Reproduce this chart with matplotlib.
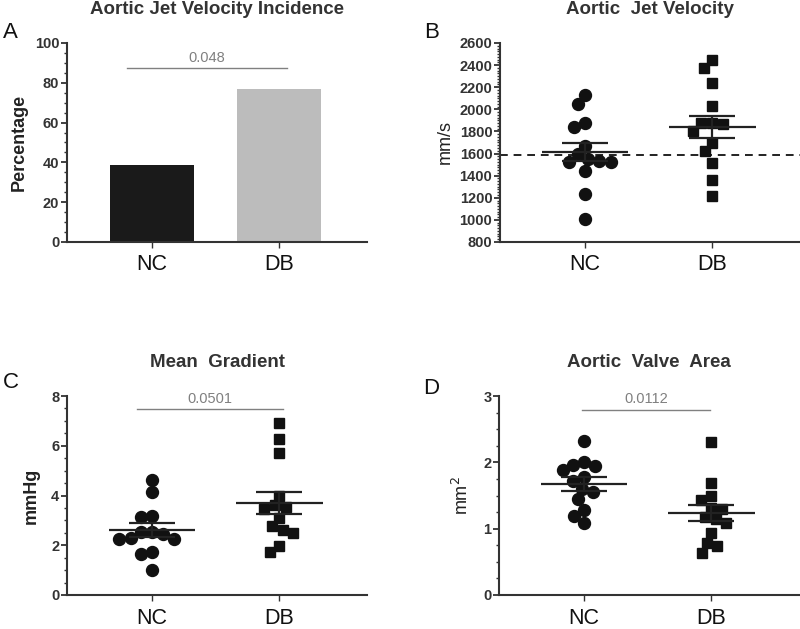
import matplotlib
matplotlib.use("Agg")
import matplotlib.pyplot as plt
import numpy as np
from matplotlib.ticker import MultipleLocator

plt.rcParams["font.family"] = ["Liberation Sans", "DejaVu Sans"]

groups = ["NC", "DB"]

# A: incidence (%)
incidence = [38.5, 76.9]
p_incidence = "0.048"

# B: aortic jet velocity (mm/s)
velocity_nc = [2128, 2050, 1877, 1844, 1671, 1593, 1547, 1526, 1526, 1536, 1442, 1230, 1012]
velocity_db = [2443, 2373, 2237, 2031, 1874, 1804, 1868, 1880, 1699, 1623, 1517, 1360, 1215]
velocity_cutoff = 1590

# C: mean gradient (mmHg)
gradient_nc = [4.64, 4.13, 3.17, 3.15, 2.55, 2.31, 2.27, 2.27, 2.44, 2.55, 1.71, 1.63, 1.01]
gradient_db = [6.91, 6.28, 5.71, 4.00, 3.55, 3.60, 3.44, 3.11, 2.61, 2.51, 2.77, 1.71, 1.95]
p_gradient = "0.0501"

# D: aortic valve area (mm2)
area_nc = [2.325, 1.965, 2.00, 1.94, 1.88, 1.725, 1.775, 1.605, 1.55, 1.44, 1.28, 1.19, 1.09]
area_db = [2.305, 1.69, 1.50, 1.43, 1.30, 1.315, 1.18, 1.14, 1.08, 0.94, 0.79, 0.74, 0.64]
p_area = "0.0112"

W, H = 800, 629
DARK = "#333333"
XLIM = (-0.67, 1.69)


def style_axes(ax, ylim, major, minor):
    ax.set_xlim(*XLIM)
    ax.set_ylim(*ylim)
    for s in ("top", "right"):
        ax.spines[s].set_visible(False)
    for s in ("left", "bottom"):
        ax.spines[s].set_color(DARK)
        ax.spines[s].set_linewidth(1.5)
    ax.yaxis.set_major_locator(MultipleLocator(major))
    ax.yaxis.set_minor_locator(MultipleLocator(minor))
    ax.tick_params(axis="y", which="major", length=4, width=1.3, color=DARK,
                   labelsize=10.5, labelcolor=DARK, pad=1.5)
    ax.tick_params(axis="y", which="minor", length=2, width=1.0, color=DARK)
    for lab in ax.get_yticklabels():
        lab.set_fontweight("bold")
    ax.set_xticks([0, 1])
    ax.set_xticklabels(groups)
    ax.tick_params(axis="x", length=4, width=1.0, color=DARK, labelsize=15.5,
                   labelcolor="#111111", pad=5)


def swarm(ax, values, d_px):
    # greedy beeswarm in pixel space, returns x offsets in data units
    pos = ax.get_position()
    ylo, yhi = ax.get_ylim()
    ys = pos.height * H / (yhi - ylo)
    xs = pos.width * W / (XLIM[1] - XLIM[0])
    vals = np.asarray(values, float)
    offs = np.zeros(len(vals))
    placed = []
    for i in np.argsort(-vals, kind="stable"):
        y = vals[i] * ys
        cands = [0.0]
        blocked = []
        for px, py in placed:
            dy = abs(py - y)
            if dy < d_px:
                w = np.sqrt(d_px ** 2 - dy ** 2)
                blocked.append((px - w, px + w))
                cands += [px - w, px + w]
        cands.sort(key=abs)
        for c in cands:
            if all(not (lo + 1e-6 < c < hi - 1e-6) for lo, hi in blocked):
                break
        offs[i] = c
        placed.append((c, y))
    return offs / xs


def dot_plot(ax, data_nc, data_db):
    for k, (vals, mk, ms, d) in enumerate([(data_nc, "o", 8.6, 11.5),
                                           (data_db, "s", 7.8, 11.0)]):
        offs = swarm(ax, vals, d)
        ax.plot(k + offs, vals, linestyle="none", marker=mk, markersize=ms,
                color="#111111", zorder=3)
        v = np.asarray(vals, float)
        m = v.mean()
        sem = v.std(ddof=1) / np.sqrt(len(v))
        lc = "#222222"
        ax.hlines(m, k - 0.34, k + 0.34, color=lc, lw=1.6, zorder=4)
        ax.hlines([m - sem, m + sem], k - 0.18, k + 0.18, color=lc, lw=1.6, zorder=4)
        ax.vlines(k, m - sem, m + sem, color=lc, lw=1.6, zorder=4)


def sig_bar(ax, y, text, x0, x1):
    ax.plot([x0, x1], [y, y], color="#808080", lw=1.0)
    ax.annotate(text, xy=((x0 + x1) / 2, y), xytext=(0, 2.5), textcoords="offset points",
                ha="center", va="bottom", fontsize=10.5, color="#808080")


fig = plt.figure(figsize=(W / 100, H / 100), dpi=100)


def add_axes(left, top, right, bottom):
    return fig.add_axes([left / W, 1 - bottom / H, (right - left) / W, (bottom - top) / H])


axA = add_axes(67, 43, 367, 242)
axB = add_axes(500, 43, 800, 242)
axC = add_axes(67, 396, 367, 595)
axD = add_axes(499, 396, 799, 595)

# A
style_axes(axA, (0, 100), 20, 5)
axA.bar([0, 1], incidence, width=0.66, color=["#1a1a1a", "#bcbcbc"])
sig_bar(axA, 87.4, p_incidence, -0.2, 1.06)
axA.set_ylabel("Percentage", fontsize=13, fontweight="bold", color="#222222", labelpad=5)

# B
style_axes(axB, (800, 2600), 200, 25)
axB.axhline(velocity_cutoff, color="#222222", lw=1.4, ls=(0, (4, 3)), zorder=2)
dot_plot(axB, velocity_nc, velocity_db)
axB.set_ylabel("mm/s", fontsize=13, color="#222222", labelpad=4)

# C
style_axes(axC, (0, 8), 2, 0.5)
dot_plot(axC, gradient_nc, gradient_db)
sig_bar(axC, 7.47, p_gradient, -0.12, 1.03)
axC.set_ylabel("mmHg", fontsize=13, fontweight="bold", color="#222222", labelpad=8)

# D
style_axes(axD, (0, 3), 1, 0.25)
dot_plot(axD, area_nc, area_db)
sig_bar(axD, 2.79, p_area, -0.02, 0.99)
axD.set_ylabel("mm$^2$", fontsize=13, color="#222222", labelpad=8)

titles = [(axA, "Aortic Jet Velocity Incidence"), (axB, "Aortic  Jet Velocity"),
          (axC, "Mean  Gradient"), (axD, "Aortic  Valve  Area")]
for ax, t in titles:
    ax.set_title(t, fontsize=13.5, fontweight="bold", color="#333333", pad=21)

for x, y, s in [(3, 32, "A"), (424, 32, "B"), (3, 383, "C"), (423, 388, "D")]:
    fig.text(x / W, 1 - y / H, s, fontsize=16, ha="left", va="center", color="#111111")

fig.savefig("out.png", dpi=100)
